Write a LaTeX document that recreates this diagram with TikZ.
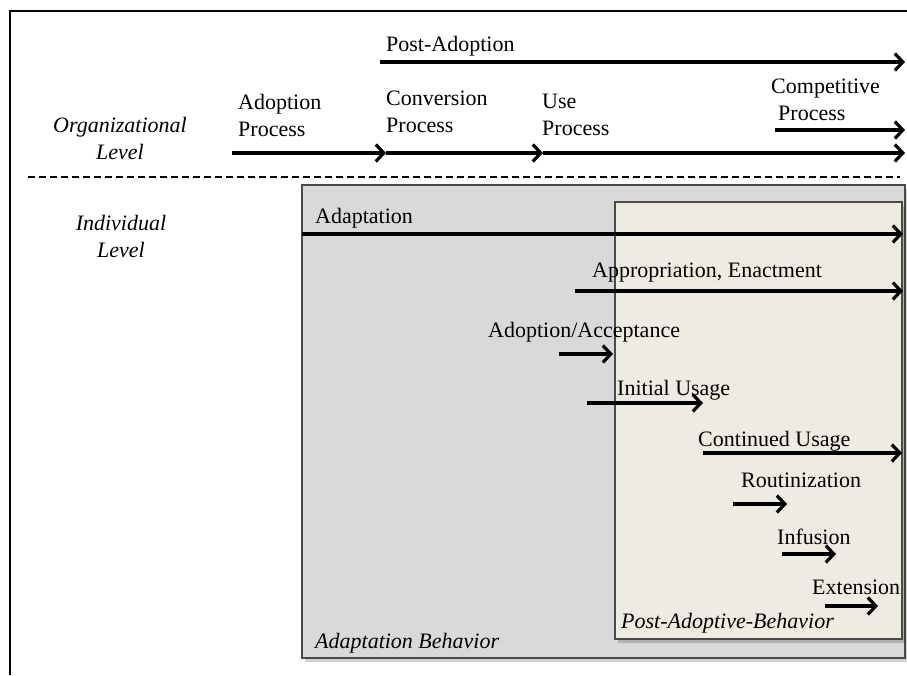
\documentclass[tikz,border=0pt]{standalone}
\usepackage{fontspec}
\setmainfont{Liberation Serif}
\usetikzlibrary{arrows.meta}
\definecolor{greyfill}{HTML}{D9D9DB}
\definecolor{beigefill}{HTML}{EEEBE1}
\definecolor{boxline}{HTML}{4A4A4A}
\tikzset{
  lbl/.style={anchor=base west,inner sep=0pt,font=\fontsize{22}{27}\selectfont,align=left},
  lvl/.style={anchor=base,inner sep=0pt,font=\fontsize{22}{27}\selectfont\itshape,align=center},
  flow/.style={line width=3.2pt,-{Straight Barb[length=8pt,width=17pt]}},
  panel/.style={draw=boxline,line width=1.4pt},
  shade/.style={fill=black,opacity=0.18}
}
\begin{document}
\begin{tikzpicture}[x=1pt,y=-1pt]
\useasboundingbox (0,0) rectangle (907,675);
% frame
\draw[line width=2.5pt] (10,675) -- (10,11) -- (907,11);
% organizational level (two-line nodes: base = last line)
\node[lvl] (org) at (120,159) {Organizational\\Level};
\node[lbl] (pa) at (386,51) {Post-Adoption};
\coordinate (paS) at (380,62); \coordinate (paE) at (905,62);
\draw[flow] (paS) -- (paE);
\node[lbl] (adp) at (238,136) {Adoption\\Process};
\node[lbl] (cvp) at (386,132) {Conversion\\Process};
\node[lbl] (usp) at (542,135) {Use\\Process};
\node[lbl] (cmp) at (771,120) {Competitive\\\hspace{7pt}Process};
\coordinate (a1) at (232,153); \coordinate (a2) at (386,153);
\coordinate (a3) at (543,153); \coordinate (a4) at (905,153);
\draw[flow] (a1) -- (a2);
\draw[flow] (a2) -- (a3);
\draw[flow] (a3) -- (a4);
\coordinate (cS) at (775,130); \coordinate (cE) at (905,130);
\draw[flow] (cS) -- (cE);
% divider
\coordinate (dS) at (28,177); \coordinate (dE) at (900,177);
\draw[line width=2.5pt,dash pattern=on 7pt off 4pt] (dS) -- (dE);
% individual level
\node[lvl] (ind) at (121,257) {Individual\\Level};
% panels
\fill[shade] (305,189) rectangle (908,662);
\draw[panel,fill=greyfill] (302,185) rectangle (905,658);
\fill[shade] (618,206) rectangle (905,643);
\draw[panel,fill=beigefill] (615,202) rectangle (902,639);
% individual flows
\node[lbl] (adapt) at (315,223) {Adaptation};
\coordinate (b1) at (302,234); \coordinate (b2) at (903,234);
\draw[flow] (b1) -- (b2);
\node[lbl] (appr) at (592,277) {Appropriation, Enactment};
\coordinate (c1) at (575,291); \coordinate (c2) at (903,291);
\draw[flow] (c1) -- (c2);
\node[lbl] (acc) at (488,337) {Adoption/Acceptance};
\coordinate (d1) at (559,354); \coordinate (d2) at (613,354);
\draw[flow] (d1) -- (d2);
\node[lbl] (init) at (617,395) {Initial Usage};
\coordinate (e1) at (587,403); \coordinate (e2) at (703,403);
\draw[flow] (e1) -- (e2);
\node[lbl] (cont) at (698,446) {Continued Usage};
\coordinate (f1) at (703,453); \coordinate (f2) at (902,453);
\draw[flow] (f1) -- (f2);
\node[lbl] (rout) at (741,487) {Routinization};
\coordinate (g1) at (733,504); \coordinate (g2) at (787,504);
\draw[flow] (g1) -- (g2);
\node[lbl] (inf) at (777,544) {Infusion};
\coordinate (h1) at (782,554); \coordinate (h2) at (836,554);
\draw[flow] (h1) -- (h2);
\node[lbl] (ext) at (812,594) {Extension};
\coordinate (i1) at (825,606); \coordinate (i2) at (878,606);
\draw[flow] (i1) -- (i2);
\node[lbl,font=\fontsize{22}{27}\selectfont\itshape] (pab) at (621,628) {Post-Adoptive-Behavior};
\node[lbl,font=\fontsize{22}{27}\selectfont\itshape] (ab) at (315,648) {Adaptation Behavior};
\end{tikzpicture}
\end{document}
